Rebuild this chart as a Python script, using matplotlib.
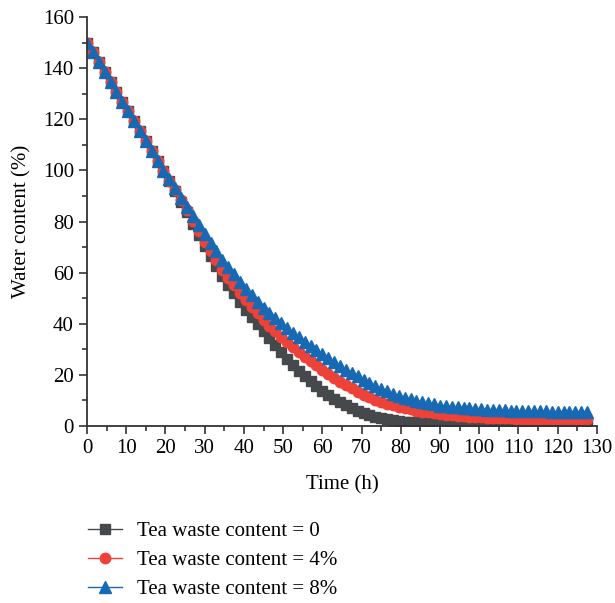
import matplotlib.pyplot as plt
from matplotlib.ticker import MultipleLocator

# Time (h)
time_h = [0, 1.5, 3, 4.5, 6, 7.5, 9, 10.5, 12, 13.5, 15, 16.5, 18, 19.5,
          21, 22.5, 24, 25.5, 27, 28.5, 30, 31.5, 33, 34.5, 36, 37.5, 39, 40.5,
          42, 43.5, 45, 46.5, 48, 49.5, 51, 52.5, 54, 55.5, 57, 58.5, 60, 61.5,
          63, 64.5, 66, 67.5, 69, 70.5, 72, 73.5, 75, 76.5, 78, 79.5, 81, 82.5,
          84, 85.5, 87, 88.5, 90, 91.5, 93, 94.5, 96, 97.5, 99, 100.5, 102, 103.5,
          105, 106.5, 108, 109.5, 111, 112.5, 114, 115.5, 117, 118.5, 120, 121.5,
          123, 124.5, 126, 127.5]

# Water content (%), tea waste content = 0
wc_0 = [150, 146.2, 142.4, 138.5, 134.7, 130.9, 127.0, 123.2, 119.3, 115.4, 111.5, 107.6, 103.7, 99.8,
        95.8, 91.8, 87.7, 83.6, 79.2, 74.9, 70.5, 66.6, 62.7, 58.8, 55.3, 52.0, 48.7, 45.6,
        42.7, 39.9, 37.0, 34.3, 31.6, 28.9, 26.3, 24.0, 21.7, 19.6, 17.6, 15.7, 13.8, 12.2,
        10.7, 9.3, 8.1, 7.0, 6.0, 5.1, 4.3, 3.6, 3.0, 2.6, 2.2, 1.9, 1.7, 1.6,
        1.5, 1.4, 1.3, 1.3, 1.3, 1.2, 1.2, 1.2, 1.2, 1.2, 1.2, 1.2, 1.2, 1.2,
        1.2, 1.2, 1.2, 1.2, 1.2, 1.2, 1.2, 1.2, 1.2, 1.2, 1.2, 1.2,
        1.2, 1.2, 1.2, 1.2]

# tea waste content = 4%
wc_4 = [150, 146.2, 142.4, 138.5, 134.7, 130.9, 127.0, 123.2, 119.3, 115.4, 111.5, 107.6, 103.7, 99.8,
        96.0, 92.3, 88.5, 84.6, 80.4, 76.2, 72.0, 68.4, 64.8, 61.2, 58.0, 55.0, 52.0, 49.2,
        46.6, 44.1, 41.5, 39.3, 37.0, 34.8, 32.7, 30.8, 28.8, 27.0, 25.3, 23.7, 22.0, 20.4,
        18.9, 17.3, 15.9, 14.7, 13.4, 12.2, 11.3, 10.3, 9.4, 8.8, 8.2, 7.6, 7.1, 6.6,
        6.0, 5.6, 5.3, 4.9, 4.6, 4.4, 4.2, 4.0, 3.8, 3.7, 3.5, 3.4, 3.3, 3.2,
        3.1, 3.0, 3.0, 2.9, 2.9, 2.9, 2.8, 2.8, 2.8, 2.7, 2.7, 2.7,
        2.6, 2.6, 2.6, 2.6]

# tea waste content = 8%
wc_8 = [150, 146.2, 142.4, 138.5, 134.7, 130.9, 127.0, 123.2, 119.3, 115.4, 111.5, 107.6, 103.7, 99.8,
        96.6, 93.0, 89.4, 85.8, 82.2, 78.6, 75.0, 71.7, 68.4, 65.1, 62.1, 59.3, 56.4, 53.7,
        51.1, 48.6, 46.0, 44.1, 42.1, 40.2, 38.3, 36.5, 34.7, 33.0, 31.3, 29.7, 28.0, 26.5,
        25.0, 23.5, 22.1, 20.8, 19.4, 18.1, 16.9, 15.7, 14.5, 13.6, 12.7, 11.8, 11.1, 10.5,
        9.9, 9.3, 8.9, 8.5, 8.0, 7.8, 7.5, 7.3, 7.1, 6.9, 6.7, 6.6, 6.4, 6.3,
        6.2, 6.1, 6.0, 5.9, 5.9, 5.8, 5.7, 5.7, 5.7, 5.6, 5.6, 5.6,
        5.5, 5.5, 5.5, 5.5]

labels = ['Tea waste content = 0', 'Tea waste content = 4%', 'Tea waste content = 8%']

plt.rcParams['font.family'] = ['Liberation Serif', 'DejaVu Serif']
plt.rcParams['font.size'] = 15

fig = plt.figure(figsize=(6.15, 6.03), dpi=100)
ax = fig.add_axes([0.1415, 0.2935, 0.829, 0.678])

ax.plot(time_h, wc_0, color='#46494c', marker='s', markersize=7, lw=1, label=labels[0])
ax.plot(time_h, wc_4, color='#ee4238', marker='o', markersize=7.5, lw=1, label=labels[1])
ax.plot(time_h, wc_8, color='#1769b3', marker='^', markersize=8.5, lw=1, label=labels[2])

ax.set_xlim(0, 130)
ax.set_ylim(0, 160)
ax.xaxis.set_major_locator(MultipleLocator(10))
ax.xaxis.set_minor_locator(MultipleLocator(5))
ax.yaxis.set_major_locator(MultipleLocator(20))
ax.yaxis.set_minor_locator(MultipleLocator(10))
ax.tick_params(which='major', direction='out', length=6, width=1.2, color='#333333', labelsize=15)
ax.tick_params(which='minor', direction='out', length=3.5, width=1.2, color='#333333')

for s in ['top', 'right']:
    ax.spines[s].set_visible(False)
for s in ['left', 'bottom']:
    ax.spines[s].set_linewidth(1.3)
    ax.spines[s].set_color('#333333')

ax.set_xlabel('Time (h)', fontsize=15, labelpad=12)
ax.set_ylabel('Water content (%)', fontsize=15, labelpad=8)

fig.legend(loc='center left', bbox_to_anchor=(0.143, 0.071), frameon=False,
           fontsize=15, handlelength=1.65, labelspacing=0.45, handletextpad=0.7,
           borderpad=0, borderaxespad=0)

fig.savefig('out.png', dpi=100)
